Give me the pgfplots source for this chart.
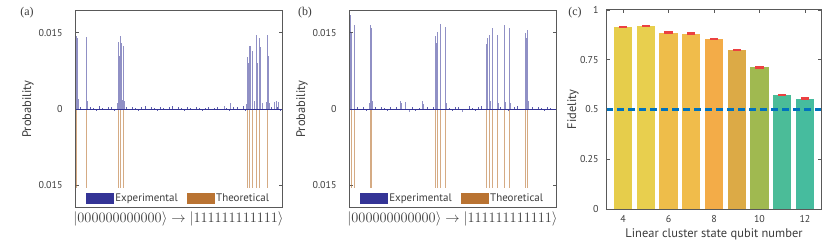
\documentclass[border=0pt]{standalone}
\usepackage{fontspec}
\setmainfont{PT Sans}
\newfontfamily\serifl{Liberation Serif}
\usepackage{pgfplots}
\pgfplotsset{compat=1.18}
\usepackage{pgfplotstable}

\definecolor{expc}{RGB}{52,52,150}
\definecolor{theoc}{RGB}{185,115,50}
\definecolor{txc}{RGB}{60,60,60}
\definecolor{c4}{RGB}{230,205,75}
\definecolor{c5}{RGB}{232,207,78}
\definecolor{c6}{RGB}{238,189,74}
\definecolor{c7}{RGB}{240,188,75}
\definecolor{c8}{RGB}{243,172,72}
\definecolor{c9}{RGB}{220,170,70}
\definecolor{c10}{RGB}{160,185,80}
\definecolor{c11}{RGB}{75,188,152}
\definecolor{c12}{RGB}{70,188,158}
\definecolor{errc}{RGB}{235,65,65}

\pgfplotstableread{
x y
5 0.0149
20 0.0143
32 0.0118
45 0.0140
60 0.0020
75 0.0015
218 0.0141
232 0.0125
245 0.0015
845 0.0012
857 0.0131
870 0.0105
891 0.0144
904 0.0120
924 0.0130
940 0.0018
956 0.0124
970 0.0015
2960 0.0006
3081 0.0011
3395 0.0010
3410 0.0103
3425 0.0090
3449 0.0124
3465 0.0110
3477 0.0124
3503 0.0115
3517 0.0100
3540 0.0015
3596 0.0146
3610 0.0090
3648 0.0140
3661 0.0123
3700 0.0012
3790 0.0014
3814 0.0146
3826 0.0105
3850 0.0012
3943 0.0014
3976 0.0015
4028 0.0014
}\expA

\pgfplotstableread{
x y
100 0.0003
160 -0.0002
300 0.0004
360 0.0002
420 -0.0003
480 0.0005
540 0.0002
600 -0.0002
660 0.0003
720 0.0004
780 -0.0003
1020 0.0003
1080 -0.0002
1140 0.0004
1200 0.0002
1260 -0.0004
1320 0.0003
1380 0.0005
1440 -0.0002
1500 0.0003
1560 0.0002
1620 -0.0003
1680 0.0004
1740 0.0002
1800 -0.0002
1860 0.0003
1920 0.0006
1980 -0.0002
2040 0.0003
2100 0.0002
2160 -0.0003
2220 0.0004
2280 0.0002
2340 -0.0002
2400 0.0003
2460 0.0002
2520 -0.0003
2580 0.0002
2640 0.0003
2700 -0.0002
2760 0.0002
2820 0.0003
2880 -0.0002
3000 0.0002
3060 -0.0003
3140 0.0004
3200 0.0003
3260 -0.0002
3320 0.0005
3360 -0.0004
3880 0.0003
3910 -0.0002
4000 0.0004
4060 -0.0003
}\noiseA

\pgfplotstableread{
x y
10 -0.015625
20 -0.015625
218 -0.015625
857 -0.015625
904 -0.015625
956 -0.015625
3410 -0.015625
3449 -0.015625
3503 -0.015625
3596 -0.015625
3648 -0.015625
3814 -0.015625
}\theoA

\pgfplotstableread{
x y
30 0.0186
40 0.0150
99 0.0166
110 0.0012
405 0.0012
416 0.0166
430 0.0120
449 0.0160
460 0.0015
1023 0.0015
1040 0.0012
1122 0.0013
1187 -0.0005
1459 0.0015
1475 0.0010
1700 0.0012
1716 0.0144
1730 0.0130
1747 0.0152
1801 0.0168
1815 0.0015
1906 0.0162
1920 0.0012
2250 -0.0006
2710 0.0010
2725 0.0128
2745 0.0140
2771 0.0145
2790 0.0015
2830 0.0160
2929 0.0145
2945 0.0012
3077 0.0165
3090 0.0014
3180 0.0160
3195 0.0012
3480 0.0010
3497 0.0150
3515 0.0140
3532 0.0155
3545 0.0015
}\expB

\pgfplotstableread{
x y
160 0.0003
220 -0.0002
280 0.0004
340 -0.0003
520 0.0003
580 -0.0002
640 0.0004
700 0.0002
760 -0.0003
820 0.0003
880 -0.0002
940 0.0004
1100 -0.0002
1260 0.0003
1320 -0.0003
1380 0.0002
1540 0.0004
1600 -0.0002
1660 0.0003
1980 0.0002
2040 -0.0003
2100 0.0004
2160 0.0003
2320 -0.0002
2380 0.0005
2440 0.0002
2500 -0.0003
2560 0.0004
2620 0.0006
2880 -0.0002
3000 0.0003
3150 -0.0003
3260 0.0004
3320 0.0005
3400 -0.0002
3620 0.0003
3680 -0.0002
3740 0.0003
3800 0.0002
3860 -0.0003
3920 0.0004
3980 0.0002
4040 -0.0002
}\noiseB

\pgfplotstableread{
x y
40 -0.015625
99 -0.015625
416 -0.015625
449 -0.015625
1716 -0.015625
1747 -0.015625
1801 -0.015625
1906 -0.015625
2725 -0.015625
2771 -0.015625
2830 -0.015625
2929 -0.015625
3077 -0.015625
3180 -0.015625
3497 -0.015625
3532 -0.015625
}\theoB

\begin{document}
\begin{tikzpicture}
\useasboundingbox (0,0) rectangle (830bp,252bp);

% ---------- (a)
\begin{axis}[scale only axis, at={(75bp,44bp)}, anchor=south west,
  width=207bp, height=198bp,
  axis line style={black!65, line width=1bp},
  xmin=0, xmax=4095, ymin=-0.0195, ymax=0.0195,
  xtick=\empty,
  ytick={-0.015,0,0.015}, yticklabels={0.015,0,0.015},
  scaled y ticks=false,
  /pgf/number format/assume math mode=true,
  tick align=inside, major tick length=3.5bp,
  every tick/.append style={black!65, line width=0.8bp},
  every tick label/.append style={font=\fontsize{10}{12}\selectfont, text=txc},
  yticklabel style={xshift=-9bp},
  ylabel={Probability},
  every axis y label/.append style={at={(axis description cs:-0.227,0.5)}, anchor=center, font=\fontsize{12.5}{14}\selectfont, text=txc},
  xlabel={$|000000000000\rangle\rightarrow|111111111111\rangle$},
  every axis x label/.append style={at={(axis description cs:0.5,0)}, anchor=center, yshift=-11bp, font=\fontsize{13.5}{15}\selectfont, text=txc},
  legend columns=2,
  legend style={at={(0.5,0.012)}, anchor=south, draw=none, fill=white,
    font=\fontsize{11}{12}\selectfont, text=txc, inner sep=1bp,
    nodes={inner sep=1.5bp},
    /tikz/every even column/.append style={column sep=8bp}},
]
\addlegendimage{legend image code/.code={\fill[expc] (0bp,-5bp) rectangle (27bp,5bp);}}
\addlegendentry{Experimental}
\addlegendimage{legend image code/.code={\fill[theoc] (0bp,-5bp) rectangle (27bp,5bp);}}
\addlegendentry{Theoretical}
\addplot[ycomb, no marks, theoc, opacity=0.6, line width=0.8bp, forget plot] table[x=x,y=y] {\theoA};
\addplot[ycomb, no marks, expc, opacity=0.55, line width=0.6bp, forget plot] table[x=x,y=y] {\expA};
\addplot[ycomb, no marks, expc, opacity=0.8, line width=0.5bp, forget plot] table[x=x,y=y] {\noiseA};
\addplot[expc, line width=0.6bp, forget plot] coordinates {(0,0) (4095,0)};
\draw[black!65, line width=1bp, opacity=1] (rel axis cs:0,0) rectangle (rel axis cs:1,1);
\end{axis}
\node[font=\serifl\fontsize{12}{14}\selectfont, text=txc] at (27bp,239bp) {(a)};

% ---------- (b)
\begin{axis}[scale only axis, at={(349bp,44bp)}, anchor=south west,
  width=207bp, height=198bp,
  axis line style={black!65, line width=1bp},
  xmin=0, xmax=4095, ymin=-0.0195, ymax=0.0195,
  xtick=\empty,
  ytick={-0.015,0,0.015}, yticklabels={0.015,0,0.015},
  scaled y ticks=false,
  /pgf/number format/assume math mode=true,
  tick align=inside, major tick length=3.5bp,
  every tick/.append style={black!65, line width=0.8bp},
  every tick label/.append style={font=\fontsize{10}{12}\selectfont, text=txc},
  yticklabel style={xshift=-9bp},
  ylabel={Probability},
  every axis y label/.append style={at={(axis description cs:-0.227,0.5)}, anchor=center, font=\fontsize{12.5}{14}\selectfont, text=txc},
  xlabel={$|000000000000\rangle\rightarrow|111111111111\rangle$},
  every axis x label/.append style={at={(axis description cs:0.5,0)}, anchor=center, yshift=-11bp, font=\fontsize{13.5}{15}\selectfont, text=txc},
  legend columns=2,
  legend style={at={(0.5,0.012)}, anchor=south, draw=none, fill=white,
    font=\fontsize{11}{12}\selectfont, text=txc, inner sep=1bp,
    nodes={inner sep=1.5bp},
    /tikz/every even column/.append style={column sep=8bp}},
]
\addlegendimage{legend image code/.code={\fill[expc] (0bp,-5bp) rectangle (27bp,5bp);}}
\addlegendentry{Experimental}
\addlegendimage{legend image code/.code={\fill[theoc] (0bp,-5bp) rectangle (27bp,5bp);}}
\addlegendentry{Theoretical}
\addplot[ycomb, no marks, theoc, opacity=0.6, line width=0.8bp, forget plot] table[x=x,y=y] {\theoB};
\addplot[ycomb, no marks, expc, opacity=0.55, line width=0.6bp, forget plot] table[x=x,y=y] {\expB};
\addplot[ycomb, no marks, expc, opacity=0.8, line width=0.5bp, forget plot] table[x=x,y=y] {\noiseB};
\addplot[expc, line width=0.6bp, forget plot] coordinates {(0,0) (4095,0)};
\draw[black!65, line width=1bp, opacity=1] (rel axis cs:0,0) rectangle (rel axis cs:1,1);
\end{axis}
\node[font=\serifl\fontsize{12}{14}\selectfont, text=txc] at (305bp,239bp) {(b)};

% ---------- (c)
\begin{axis}[scale only axis, at={(606bp,43bp)}, anchor=south west,
  width=216bp, height=199bp,
  axis line style={black!65, line width=1bp},
  xmin=3.25, xmax=12.75, ymin=0, ymax=1,
  xtick={4,6,8,10,12},
  ytick={0,0.25,0.5,0.75,1}, yticklabels={0,0.25,0.5,0.75,1},
  /pgf/number format/assume math mode=true,
  tick align=inside, major tick length=3.5bp,
  every tick/.append style={black!65, line width=0.8bp},
  every tick label/.append style={font=\fontsize{10}{12}\selectfont, text=txc},
  yticklabel style={xshift=-4bp},
  xticklabel style={yshift=-3bp},
  ylabel={Fidelity},
  every axis y label/.append style={at={(axis description cs:-0.153,0.5)}, anchor=center, font=\fontsize{12.5}{14}\selectfont, text=txc},
  xlabel={Linear cluster state qubit number},
  every axis x label/.append style={at={(axis description cs:0.5,0)}, anchor=center, yshift=-25bp, font=\fontsize{12.5}{14}\selectfont, text=txc},
]
\addplot[ybar, bar width=0.8, bar shift=0pt, draw=none, fill=c4] coordinates {(4,0.916)};
\addplot[ybar, bar width=0.8, bar shift=0pt, draw=none, fill=c5] coordinates {(5,0.920)};
\addplot[ybar, bar width=0.8, bar shift=0pt, draw=none, fill=c6] coordinates {(6,0.886)};
\addplot[ybar, bar width=0.8, bar shift=0pt, draw=none, fill=c7] coordinates {(7,0.881)};
\addplot[ybar, bar width=0.8, bar shift=0pt, draw=none, fill=c8] coordinates {(8,0.853)};
\addplot[ybar, bar width=0.8, bar shift=0pt, draw=none, fill=c9] coordinates {(9,0.798)};
\addplot[ybar, bar width=0.8, bar shift=0pt, draw=none, fill=c10] coordinates {(10,0.712)};
\addplot[ybar, bar width=0.8, bar shift=0pt, draw=none, fill=c11] coordinates {(11,0.572)};
\addplot[ybar, bar width=0.8, bar shift=0pt, draw=none, fill=c12] coordinates {(12,0.555)};
\addplot[no marks, color={rgb,255:red,0;green,114;blue,189}, line width=2.2bp, dash pattern=on 7bp off 4bp, opacity=1] coordinates {(3.25,0.5) (12.75,0.5)};
\addplot[only marks, mark=-, mark size=4.2bp, mark options={draw=errc, line width=2.4bp}] coordinates {(4,0.916) (5,0.920) (6,0.886) (7,0.881) (8,0.853) (9,0.798) (10,0.712) (11,0.572) (12,0.555)};
\draw[black!65, line width=1bp, opacity=1] (rel axis cs:0,0) rectangle (rel axis cs:1,1);
\end{axis}
\node[font=\serifl\fontsize{12}{14}\selectfont, text=txc] at (575bp,239bp) {(c)};
\end{tikzpicture}
\end{document}
